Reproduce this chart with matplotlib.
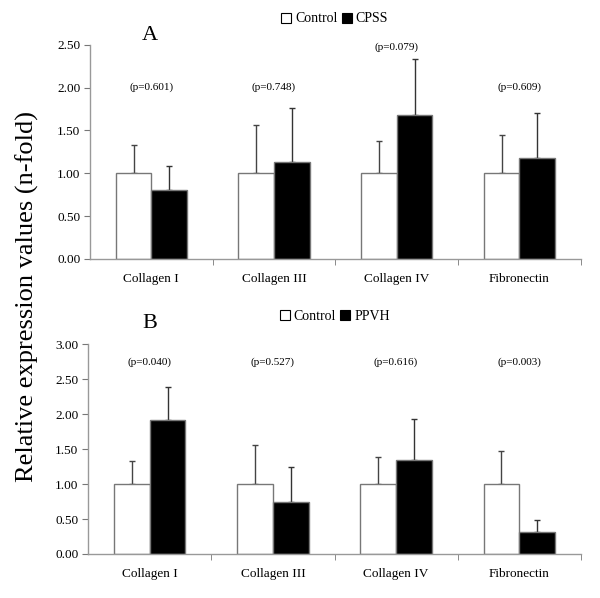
import numpy as np
import matplotlib.pyplot as plt
from matplotlib.patches import Patch

plt.rcParams['font.family'] = ['Liberation Serif', 'DejaVu Serif']

categorias = ["Collagen I", "Collagen III", "Collagen IV", "Fibronectin"]

# Painel A: Control vs CPSS
controle_a = [1.00, 1.00, 1.00, 1.00]
controle_a_erro = [0.33, 0.56, 0.38, 0.45]
cpss = [0.81, 1.13, 1.68, 1.18]
cpss_erro = [0.27, 0.63, 0.65, 0.53]
p_a = ["(p=0.601)", "(p=0.748)", "(p=0.079)", "(p=0.609)"]
p_a_y = [2.00, 2.00, 2.47, 2.00]

# Painel B: Control vs PPVH
controle_b = [1.00, 1.00, 1.00, 1.00]
controle_b_erro = [0.33, 0.56, 0.38, 0.47]
ppvh = [1.91, 0.75, 1.35, 0.32]
ppvh_erro = [0.48, 0.49, 0.58, 0.16]
p_b = ["(p=0.040)", "(p=0.527)", "(p=0.616)", "(p=0.003)"]
p_b_y = [2.74, 2.74, 2.74, 2.74]

cinza = "#777777"
largura = 0.29


def painel(ax, ctrl, ctrl_err, trat, trat_err, pvals, py, ymax, yticks):
    x = np.arange(len(categorias))
    ax.bar(x - largura / 2, ctrl, largura, color="white", edgecolor=cinza, linewidth=1.0, zorder=2)
    ax.bar(x + largura / 2, trat, largura, color="black", edgecolor=cinza, linewidth=1.0, zorder=2)
    # so a barra de erro para cima
    ax.errorbar(x - largura / 2, ctrl, yerr=[np.zeros(len(ctrl)), ctrl_err], fmt="none",
                ecolor="#444444", elinewidth=1.0, capsize=2.5, capthick=1.0, zorder=1)
    ax.errorbar(x + largura / 2, trat, yerr=[np.zeros(len(trat)), trat_err], fmt="none",
                ecolor="#333333", elinewidth=1.0, capsize=2.5, capthick=1.0, zorder=1)
    for i, (t, yy) in enumerate(zip(pvals, py)):
        ax.text(i, yy, t, ha="center", va="center", fontsize=8)
    ax.set_xlim(-0.5, 3.5)
    ax.set_ylim(0, ymax)
    ax.set_yticks(yticks)
    ax.set_yticklabels(["%.2f" % v for v in yticks], fontsize=9.5)
    ax.set_xticks(x)
    ax.set_xticklabels(categorias, fontsize=9.5)
    ax.set_xticks([0.5, 1.5, 2.5, 3.5], minor=True)
    ax.tick_params(axis="x", which="major", length=0, pad=10)
    ax.tick_params(axis="x", which="minor", length=4, color=cinza, direction="out")
    ax.tick_params(axis="y", length=4, color=cinza, pad=3)
    for s in ["top", "right"]:
        ax.spines[s].set_visible(False)
    for s in ["left", "bottom"]:
        ax.spines[s].set_color("#999999")
        ax.spines[s].set_linewidth(1.0)


fig = plt.figure(figsize=(6, 5.98), dpi=100)
ax1 = fig.add_axes([0.15, 0.567, 0.818, 0.358])
ax2 = fig.add_axes([0.147, 0.0736, 0.821, 0.351])

painel(ax1, controle_a, controle_a_erro, cpss, cpss_erro, p_a, p_a_y, 2.5,
       [0, 0.5, 1.0, 1.5, 2.0, 2.5])
painel(ax2, controle_b, controle_b_erro, ppvh, ppvh_erro, p_b, p_b_y, 3.0,
       [0, 0.5, 1.0, 1.5, 2.0, 2.5, 3.0])

fig.text(0.25, 1 - 35 / 598, "A", fontsize=16, ha="center", va="center")
fig.text(0.25, 1 - 323 / 598, "B", fontsize=16, ha="center", va="center")

def legenda(nome, y):
    h = [Patch(facecolor="white", edgecolor="black", linewidth=0.8),
         Patch(facecolor="black", edgecolor="black", linewidth=0.8)]
    fig.legend(h, ["Control", nome], loc="center", bbox_to_anchor=(0.558, y), ncol=2,
               frameon=False, fontsize=10, handlelength=0.7, handleheight=0.7,
               handletextpad=0.3, columnspacing=0.3)

legenda("CPSS", 1 - 19 / 598)
legenda("PPVH", 1 - 316 / 598)

fig.text(27 / 600, 1 - 297 / 598, "Relative expression values (n-fold)", rotation=90,
         fontsize=19, ha="center", va="center")

fig.savefig("out.png", dpi=100)
